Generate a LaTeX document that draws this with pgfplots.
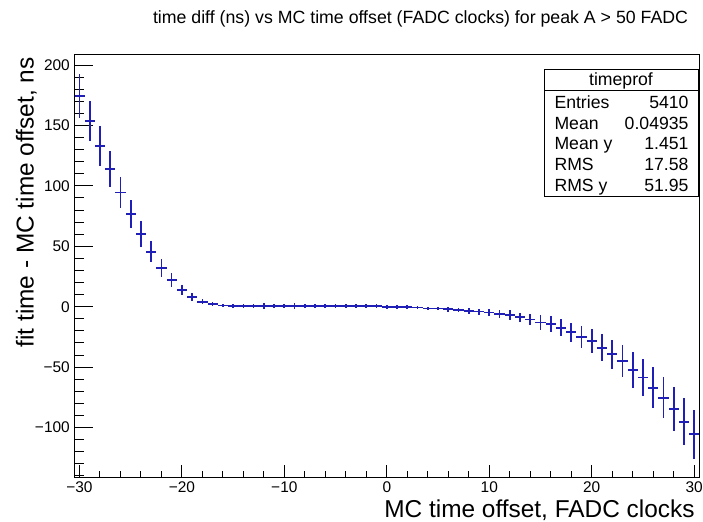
\documentclass[border=0pt]{standalone}
\usepackage{pgfplots}
\pgfplotsset{compat=1.18}
\usepackage{pgfplotstable}
\usepackage{fontspec}
\setmainfont{Liberation Sans}
\definecolor{rootblue}{rgb}{0.12,0.12,0.72}
\pgfplotstableread{
x y ey
-30 174.4 17.9
-29 153.7 16.8
-28 133.0 16.3
-27 113.7 14.9
-26 94.4 13.1
-25 76.7 11.7
-24 60.2 10.6
-23 45.3 8.7
-22 32.0 7.3
-21 22.1 5.8
-20 13.8 4.1
-19 8.0 3.0
-18 4.1 2.2
-17 2.1 1.6
-16 0.9 1.2
-15 0.6 1.3
-14 0.7 1.5
-13 0.6 1.5
-12 0.7 2.2
-11 0.6 1.5
-10 0.6 1.5
-9 0.7 2.2
-8 0.6 1.5
-7 0.6 1.5
-6 0.6 1.5
-5 0.7 1.5
-4 0.6 1.5
-3 0.6 1.5
-2 0.6 1.5
-1 0.6 1.5
0 -0.4 1.5
1 -0.5 1.5
2 -0.5 1.5
3 -0.6 1.5
4 -1.4 1.5
5 -1.5 1.6
6 -2.2 1.8
7 -2.7 2.0
8 -3.6 2.2
9 -4.1 2.5
10 -4.7 3.0
11 -6.0 3.6
12 -6.9 3.8
13 -8.8 3.9
14 -10.5 4.4
15 -13.0 5.9
16 -14.6 6.6
17 -17.4 6.9
18 -21.2 7.7
19 -24.8 9.0
20 -28.4 9.9
21 -33.9 11.0
22 -39.4 12.0
23 -44.9 13.1
24 -52.4 14.8
25 -58.7 15.5
26 -67.0 17.0
27 -75.3 17.2
28 -84.7 18.2
29 -95.2 19.5
30 -105.4 20.3
}\profdata
\begin{document}
\begin{tikzpicture}[x=1bp,y=1bp]
\useasboundingbox (0,0) rectangle (703,522);
\pgfplotsset{rootaxis/.style={
  at={(74.3bp,44.3bp)}, anchor=south west,
  scale only axis, width=625bp, height=423.7bp,
  xmin=-30.5, xmax=30.5, ymin=-141.5, ymax=209.1,
  axis line style={black, line width=0.9bp},
  tick align=inside,
  every tick/.style={black, line width=0.9bp},
  tick label style={font=\fontsize{15.5}{16}\selectfont},
}}
% axis with data and y ticks
\begin{axis}[rootaxis,
  xtick=\empty,
  ytick={-100,-50,...,200}, yticklabels={−100,−50,0,50,100,150,200},
  minor ytick={-140,-130,...,200},
  ytick pos=left,
  major tick length=18.8bp, minor tick length=9.4bp,
  yticklabel style={xshift=-1bp},
]
\addplot[draw=none, mark=none,
  error bars/.cd, x dir=both, x fixed=0.5, y dir=both, y explicit,
  error mark=none, error bar style={draw=rootblue, solid, line width=1.7bp}]
  table[x=x, y=y, y error=ey] {\profdata};
\end{axis}
% axis with x ticks
\begin{axis}[rootaxis,
  ytick=\empty,
  xtick={-30,-20,...,30}, xticklabels={−30,−20,−10,0,10,20,30},
  minor xtick={-30,-28,...,30},
  xtick pos=bottom,
  major tick length=12.7bp, minor tick length=6.4bp,
  xticklabel style={yshift=-1bp},
]
\end{axis}
\node[anchor=center, font=\fontsize{17.8}{18}\selectfont] at (420.5,503) {time diff (ns) vs MC time offset (FADC clocks) for peak A > 50 FADC};
\node[anchor=base east, font=\fontsize{24.5}{25}\selectfont] at (698,4.5) {MC time offset, FADC clocks};
\node[anchor=base east, rotate=90, font=\fontsize{24.5}{25}\selectfont] at (33.5,468) {fit time - MC time offset, ns};
% stat box
\draw[black, line width=0.9bp, fill=white] (544,325.3) rectangle (698.5,452.7);
\draw[black, line width=0.9bp] (544,432) -- (698.5,432);
\node[anchor=center, font=\fontsize{17.7}{18}\selectfont] at (621,441.3) {timeprof};
\foreach \lab/\val/\yy in {Entries/5410/419.5, Mean/0.04935/399, Mean y/1.451/378.5, RMS/17.58/357.5, RMS y/51.95/336.5}{
  \node[anchor=base west, font=\fontsize{17.7}{18}\selectfont] at (551,\yy-6.3) {\lab};
  \node[anchor=base east, font=\fontsize{17.7}{18}\selectfont] at (692,\yy-6.3) {\val};
}
\end{tikzpicture}
\end{document}
